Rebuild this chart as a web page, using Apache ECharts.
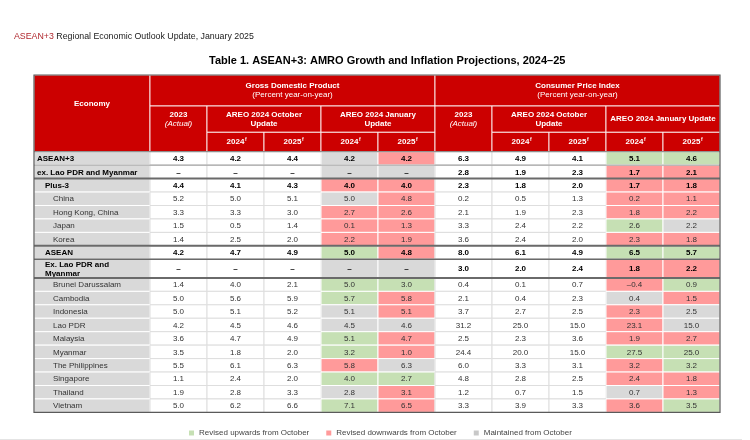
<!DOCTYPE html>
<html><head><meta charset="utf-8">
<script src="https://cdn.jsdelivr.net/npm/echarts@6/dist/echarts.min.js"></script>
<style>html,body{margin:0;padding:0;background:#fff}#c{width:750px;height:440px}</style>
</head><body><div id="c"></div>
<script>
// ---------------- DATA ----------------
const economies = ['ASEAN+3','ex. Lao PDR and Myanmar','Plus-3','China','Hong Kong, China','Japan','Korea','ASEAN','Ex. Lao PDR and\nMyanmar','Brunei Darussalam','Cambodia','Indonesia','Lao PDR','Malaysia','Myanmar','The Philippines','Singapore','Thailand','Vietnam'];
const economyLevel = [0,0,1,2,2,2,2,1,1,2,2,2,2,2,2,2,2,2,2];

const gdp2023    = [4.3,null,4.4,5.2,3.3,1.5,1.4,4.2,null,1.4,5.0,5.0,4.2,3.6,3.5,5.5,1.1,1.9,5.0];
const gdpOct2024 = [4.2,null,4.1,5.0,3.3,0.5,2.5,4.7,null,4.0,5.6,5.1,4.5,4.7,1.8,6.1,2.4,2.8,6.2];
const gdpOct2025 = [4.4,null,4.3,5.1,3.0,1.4,2.0,4.9,null,2.1,5.9,5.2,4.6,4.9,2.0,6.3,2.0,3.3,6.6];
const gdpJan2024 = [4.2,null,4.0,5.0,2.7,0.1,2.2,5.0,null,5.0,5.7,5.1,4.5,5.1,3.2,5.8,4.0,2.8,7.1];
const gdpJan2025 = [4.2,null,4.0,4.8,2.6,1.3,1.9,4.8,null,3.0,5.8,5.1,4.6,4.7,1.0,6.3,2.7,3.1,6.5];
const cpi2023    = [6.3,2.8,2.3,0.2,2.1,3.3,3.6,8.0,3.0,0.4,2.1,3.7,31.2,2.5,24.4,6.0,4.8,1.2,3.3];
const cpiOct2024 = [4.9,1.9,1.8,0.5,1.9,2.4,2.4,6.1,2.0,0.1,0.4,2.7,25.0,2.3,20.0,3.3,2.8,0.7,3.9];
const cpiOct2025 = [4.1,2.3,2.0,1.3,2.3,2.2,2.0,4.9,2.4,0.7,2.3,2.5,15.0,3.6,15.0,3.1,2.5,1.5,3.3];
const cpiJan2024 = [5.1,1.7,1.7,0.2,1.8,2.6,2.3,6.5,1.8,-0.4,0.4,2.3,23.1,1.9,27.5,3.2,2.4,0.7,3.6];
const cpiJan2025 = [4.6,2.1,1.8,1.1,2.2,2.2,1.8,5.7,2.2,0.9,1.5,2.5,15.0,2.7,25.0,3.2,1.8,1.3,3.5];

const indicatorNames = ['Gross Domestic Product','Consumer Price Index'];
const indicatorUnit = '(Percent year-on-year)';
const actualYear = '2023';
const actualLabel = '(Actual)';
const octoberLabel = 'AREO 2024 October\nUpdate';
const januaryLabels = ['AREO 2024 January\nUpdate','AREO 2024 January Update'];
const projYears = ['2024','2025'];
const legendNames = ['Revised upwards from October','Revised downwards from October','Maintained from October'];
const subtitleHead = 'ASEAN+3';
const subtitleRest = 'Regional Economic Outlook Update, January 2025';
const tableTitle = 'Table 1. ASEAN+3: AMRO Growth and Inflation Projections, 2024\u201325';

// ---------------- STYLE / LAYOUT ----------------
const FONT = "'Liberation Sans', Arial, sans-serif";
const RED = '#cc0000', UP = '#c6e0b4', DOWN = '#ff9a9a', SAME = '#d9d9d9';
const colW = [116,57,57,57,57,57,57,57,57,57,57];
const hdrH = [31,26.3,19.4];
const rowH = economies.map(e => e.indexOf('\n') >= 0 ? 18.6 : 13.45);
const indentPx = [3,11,19];
const colX = [0]; colW.forEach(w => colX.push(colX[colX.length-1] + w));
const hdrY = [0]; hdrH.forEach(h => hdrY.push(hdrY[hdrY.length-1] + h));
const rowY = [hdrY[3]]; rowH.forEach(h => rowY.push(rowY[rowY.length-1] + h));
const TW = colX[colX.length-1], TH = rowY[rowY.length-1];

const valueCols = [gdp2023,gdpOct2024,gdpOct2025,gdpJan2024,gdpJan2025,cpi2023,cpiOct2024,cpiOct2025,cpiJan2024,cpiJan2025];
const isJan = [false,false,false,true,true,false,false,false,true,true];

function fmt(v){ if(v==null) return '\u2013'; return (v<0?'\u2013':'') + Math.abs(v).toFixed(1); }

// ---------- header cells ----------
const hdrCells = [];
function hcell(c0,c1,r0,r1,text,tr1,sup){
  hdrCells.push({x0:colX[c0],x1:colX[c1],y0:hdrY[r0],y1:hdrY[r1],tx:(colX[c0]+colX[c1])/2,ty:(hdrY[r0]+hdrY[tr1==null?r1:tr1])/2,text,sup});
}
hcell(0,1,0,3,'{b|Economy}',2);
for(let g=0; g<2; g++){
  const b = 1 + g*5;
  hcell(b,b+5,0,1,'{b|'+indicatorNames[g]+'}\n{n|'+indicatorUnit+'}');
  hcell(b,b+1,1,3,'{b|'+actualYear+'}\n{i|'+actualLabel+'}',2);
  hcell(b+1,b+3,1,2,octoberLabel.split('\n').map(s=>'{b|'+s+'}').join('\n'));
  hcell(b+3,b+5,1,2,januaryLabels[g].split('\n').map(s=>'{b|'+s+'}').join('\n'));
  for(let k=0;k<4;k++) hcell(b+1+k,b+2+k,2,3,'{b|'+projYears[k%2]+'}',null,true);
}

// ---------- body cells ----------
const bodyCells = [];
economies.forEach((name,i)=>{
  const bold = economyLevel[i] <= 1;
  bodyCells.push({x0:colX[0],x1:colX[1],y0:rowY[i],y1:rowY[i+1],tx:colX[0]+indentPx[economyLevel[i]],ty:(rowY[i]+rowY[i+1])/2,
    text:name,fill:SAME,stroke:'#ffffff',bold,align:'left',color: bold?'#000':'#333'});
  valueCols.forEach((arr,j)=>{
    const v = arr[i];
    let fill = '#ffffff', stroke = '#dedede';
    if(isJan[j]){
      const ref = valueCols[j-2][i];
      if(v==null || ref==null || v===ref) fill = SAME; else if(v>ref) fill = UP; else fill = DOWN;
      stroke = '#ffffff';
    }
    bodyCells.push({x0:colX[j+1],x1:colX[j+2],y0:rowY[i],y1:rowY[i+1],tx:(colX[j+1]+colX[j+2])/2,ty:(rowY[i]+rowY[i+1])/2,
      text:fmt(v),fill,stroke,bold,align:'center',color: bold?'#000':'#333'});
  });
});

// ---------- separators ----------
const seps = [
  {y:rowY[0], w:1, c:'#7a7a7a'},
  {y:rowY[1], w:1, c:'#9a9a9a'},
  {y:rowY[2], w:2, c:'#6a6a6a'},
  {y:rowY[7], w:2, c:'#6a6a6a'},
  {y:rowY[8], w:1.5, c:'#6a6a6a'},
  {y:rowY[9], w:2, c:'#6a6a6a'}
];

function rectOf(api){
  const p0 = api.coord([api.value(0), api.value(1)]);
  const p1 = api.coord([api.value(2), api.value(3)]);
  return {x:p0[0], y:p0[1], width:p1[0]-p0[0], height:p1[1]-p0[1]};
}

const hdrRich = {
  b:{font:'bold 8px '+FONT, fill:'#fff', lineHeight:9},
  n:{font:'8px '+FONT, fill:'#fff', lineHeight:9},
  i:{font:'italic 8px '+FONT, fill:'#fff', lineHeight:9}
};

const chart = echarts.init(document.getElementById('c'), null, {renderer:'canvas'});
chart.setOption({
  animation:false,
  title:[
    {text:'{r|'+subtitleHead+'} {k|'+subtitleRest+'}', left:9, top:27,
     textStyle:{fontWeight:'normal', fontSize:8.8, fontFamily:FONT,
       rich:{r:{color:'#b0282e',fontSize:8.8,fontWeight:'normal',fontFamily:FONT},k:{color:'#1a1a1a',fontSize:8.8,fontWeight:'normal',fontFamily:FONT}}}},
    {text:tableTitle, left:204, top:50, textStyle:{fontSize:11,fontWeight:'bold',color:'#000',fontFamily:FONT}}
  ],
  legend:{data:legendNames, left:184, top:424, itemWidth:5, itemHeight:5, itemGap:17, icon:'rect', selectedMode:false,
    textStyle:{fontSize:8,color:'#444',fontFamily:FONT}},
  grid:{left:34, top:75, width:TW, height:TH},
  xAxis:{type:'value', min:0, max:TW, show:false},
  yAxis:{type:'value', min:0, max:TH, inverse:true, show:false},
  graphic:[{type:'line', shape:{x1:0,y1:439.5,x2:742,y2:439.5}, style:{stroke:'#e4e4e4',lineWidth:1}, silent:true}],
  series:[
    {type:'custom', name:'header', silent:true, z:2,
     data: hdrCells.map(c=>[c.x0,c.y0,c.x1,c.y1,c.tx,c.ty]),
     renderItem:function(params,api){
       const c = hdrCells[params.dataIndex];
       const r = rectOf(api);
       const t = api.coord([api.value(4), api.value(5)]);
       const ch = [
         {type:'rect', shape:r, style:{fill:RED, stroke:'rgba(255,255,255,0.85)', lineWidth:1}},
         {type:'text', style:{text:c.text, rich:hdrRich, x:t[0], y:t[1], align:'center', verticalAlign:'middle', textAlign:'center', textVerticalAlign:'middle'}}
       ];
       if(c.sup){
         ch.push({type:'text', style:{text:'f', x:t[0]+9.5, y:t[1]-2, font:'bold 5px '+FONT, fill:'#fff', align:'left', verticalAlign:'middle', textAlign:'left', textVerticalAlign:'middle'}});
       }
       return {type:'group', children:ch};
     }},
    {type:'custom', name:'body', silent:true, z:3,
     data: bodyCells.map(c=>[c.x0,c.y0,c.x1,c.y1,c.tx,c.ty]),
     renderItem:function(params,api){
       const c = bodyCells[params.dataIndex];
       const r = rectOf(api);
       const t = api.coord([api.value(4), api.value(5)]);
       return {type:'group', children:[
         {type:'rect', shape:r, style:{fill:c.fill, stroke:c.stroke, lineWidth:1}},
         {type:'text', style:{text:c.text, x:t[0], y:t[1]+0.5, font:(c.bold?'bold ':'')+'8px '+FONT, fill:c.color, lineHeight:9,
           align:c.align, verticalAlign:'middle', textAlign:c.align, textVerticalAlign:'middle'}}
       ]};
     }},
    {type:'custom', name:'seps', silent:true, z:4,
     data: seps.map(s=>[s.y]),
     renderItem:function(params,api){
       const s = seps[params.dataIndex];
       const a = api.coord([0, api.value(0)]);
       const b = api.coord([TW, api.value(0)]);
       return {type:'line', shape:{x1:a[0],y1:a[1],x2:b[0],y2:b[1]}, style:{stroke:s.c, lineWidth:s.w}};
     }},
    {type:'custom', name:'frame', silent:true, z:5,
     data:[[0,0,TW,TH]],
     renderItem:function(params,api){
       return {type:'rect', shape:rectOf(api), style:{fill:null, stroke:'#5a5a5a', lineWidth:1.2}};
     }},
    {type:'custom', name:legendNames[0], data:[], itemStyle:{color:UP}, renderItem:()=>null},
    {type:'custom', name:legendNames[1], data:[], itemStyle:{color:DOWN}, renderItem:()=>null},
    {type:'custom', name:legendNames[2], data:[], itemStyle:{color:'#c8c8c8'}, renderItem:()=>null}
  ]
});
</script></body></html>
